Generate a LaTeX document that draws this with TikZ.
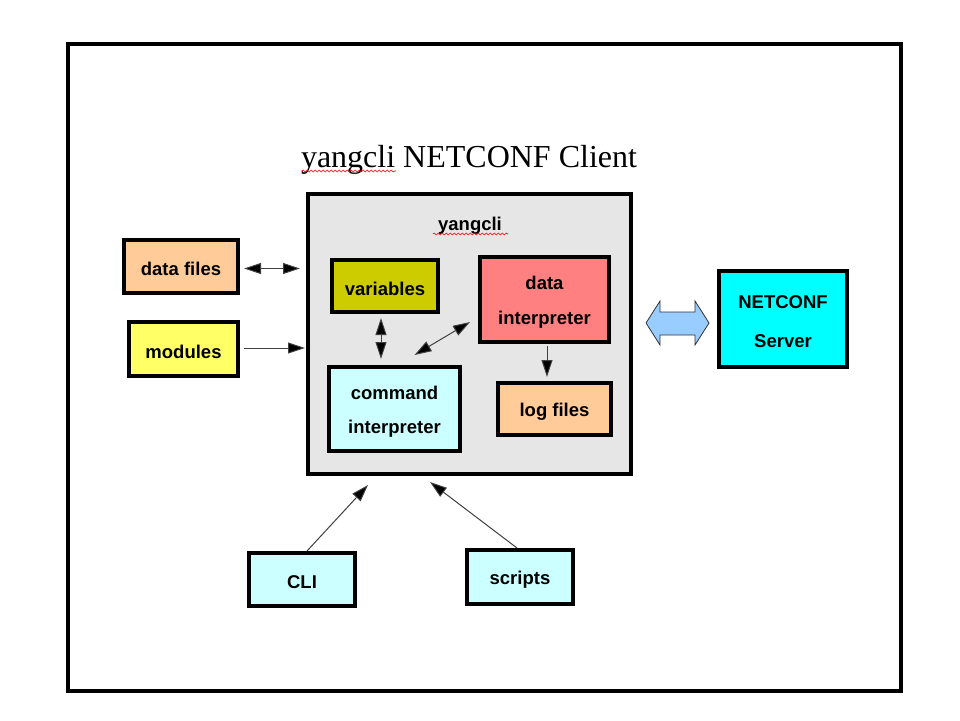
\documentclass[tikz,border=0pt]{standalone}
\usepackage{fontspec}
\setmainfont{Liberation Serif}
\setsansfont{Liberation Sans}
\usetikzlibrary{arrows.meta,calc,decorations.pathmorphing}
\definecolor{peach}{HTML}{FFCC99}
\definecolor{lyellow}{HTML}{FFFF66}
\definecolor{olive2}{HTML}{CCCC00}
\definecolor{salmon2}{HTML}{FF8080}
\definecolor{lcyan}{HTML}{CCFFFF}
\definecolor{acyan}{HTML}{00FFFF}
\definecolor{panel}{HTML}{E6E6E6}
\definecolor{lblue}{HTML}{99CCFF}
\newcommand{\liftline}{\rule{0pt}{18.5pt}}
\begin{document}
\begin{tikzpicture}[x=1pt,y=-1pt,
  box/.style={draw=black, line width=4pt, inner sep=0pt, align=center,
    font=\sffamily\bfseries\fontsize{18.5}{34.5}\selectfont},
  conn/.style={draw=black!75, line width=1pt},
  tip/.style={-{Triangle[length=17pt,width=11pt,fill=black]}},
  dtip/.style={{Triangle[length=17pt,width=11pt,fill=black]}-{Triangle[length=17pt,width=11pt,fill=black]}},
  squig/.style={draw=red, line width=0.6pt, decorate,
    decoration={snake, segment length=4pt, amplitude=1pt}}]
\useasboundingbox (0,0) rectangle (960,720);
\fill[white] (0,0) rectangle (960,720);
\node[draw=black, line width=4pt, minimum width=833pt, minimum height=647pt, inner sep=0pt] (frame) at (484.5,367.5) {};
\node[anchor=base, font=\fontsize{32}{36}\selectfont, inner sep=0pt] (title) at (469,167) {yangcli NETCONF Client};
\draw[squig] (302,171) -- (396,171);

\node[box, fill=panel, minimum width=323pt, minimum height=280pt] (yangcli) at (469.5,334) {};
\node[anchor=base, inner sep=0pt, font=\sffamily\bfseries\fontsize{18.5}{22}\selectfont] (ylabel) at (470,230) {yangcli};
\draw[squig] (433,234) -- (508,234);

\node[box, fill=peach, minimum width=114pt, minimum height=53pt] (datafiles) at (181,266.5) {\liftline data files};
\node[box, fill=lyellow, minimum width=109pt, minimum height=54pt] (modules) at (183.5,349) {\liftline modules};
\node[box, fill=olive2, minimum width=106pt, minimum height=52pt] (variables) at (385,286) {\liftline variables};
\node[box, fill=salmon2, minimum width=129pt, minimum height=85pt] (interp) at (544.5,299.5) {\liftline data\\interpreter};
\node[box, fill=lcyan, minimum width=131pt, minimum height=84pt] (cmd) at (394.5,409) {\liftline command\\interpreter};
\node[box, fill=peach, minimum width=113pt, minimum height=52pt] (logs) at (554.5,409) {\liftline log files};
\node[box, fill=acyan, minimum width=128pt, minimum height=96pt] (server) at (783,319) {\liftline NETCONF\\[5pt]Server};
\node[box, fill=lcyan, minimum width=106pt, minimum height=53pt] (cli) at (302,579.5) {\liftline CLI};
\node[box, fill=lcyan, minimum width=106pt, minimum height=54pt] (scripts) at (520,577) {\liftline scripts};

% connectors
\draw[conn, dtip] ([shift={(4,2)}]datafiles.east) -- ($(yangcli.west|-datafiles.east)+(-6,2)$);
\draw[conn, tip] ([shift={(4,-1)}]modules.east) -- ($(yangcli.west|-modules.east)+(-1,-1)$);
\draw[conn, dtip] ([shift={(-4,4)}]variables.south) -- ($(variables.south|-cmd.north)+(-4,-6)$);
\draw[conn, dtip] ([shift={(20,-10)}]cmd.north) -- ([shift={(-8,22.5)}]interp.west);
\draw[conn, tip] ([shift={(2.5,2)}]interp.south) -- ($(interp.south|-logs.north)+(2.5,-4)$);
\draw[conn, tip] ([shift={(5,0)}]cli.north) -- ([shift={(-101.5,9)}]yangcli.south);
\draw[conn, tip] ([shift={(-3,0)}]scripts.north) -- ([shift={(-39.5,6)}]yangcli.south);

% big double arrow between yangcli and server
\draw[fill=lblue, draw=black!80, line width=0.8pt]
  (646,323) -- (660,301) -- (660,312) -- (695,312) -- (695,301) -- (709,323)
  -- (695,345) -- (695,335) -- (660,335) -- (660,345) -- cycle;
\end{tikzpicture}
\end{document}
